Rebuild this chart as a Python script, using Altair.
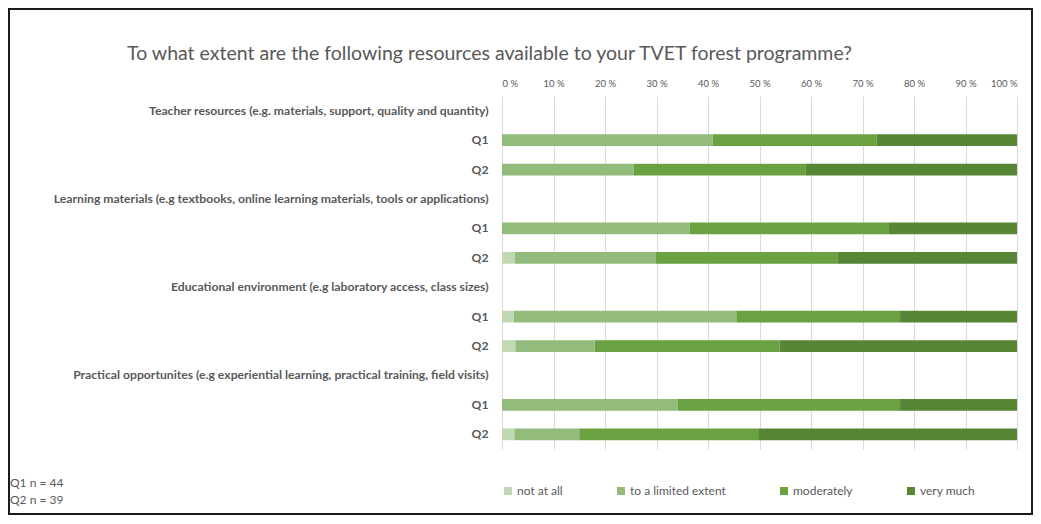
import altair as alt
import pandas as pd

title_text = "To what extent are the following resources available to your TVET forest programme?"

groups = [
    "Teacher resources (e.g. materials, support, quality and quantity)",
    "Learning materials (e.g textbooks, online learning materials, tools or applications)",
    "Educational environment (e.g laboratory access, class sizes)",
    "Practical opportunites (e.g experiential learning, practical training, field visits)",
]
waves = ["Q1", "Q2"]
responses = ["not at all", "to a limited extent", "moderately", "very much"]
colors = ["#C0D8B4", "#93BC7C", "#6AA242", "#568636"]

# percentages per (group, wave), in response order
values = [
    [[0.0, 40.9, 31.8, 27.3], [0.0, 25.6, 33.4, 41.0]],
    [[0.0, 36.4, 38.6, 25.0], [2.5, 27.4, 35.2, 34.9]],
    [[2.3, 43.2, 31.8, 22.7], [2.6, 15.4, 35.9, 46.1]],
    [[0.0, 34.1, 43.2, 22.7], [2.4, 12.6, 34.9, 50.1]],
]
notes = ["Q1 n = 44", "Q2 n = 39"]
x_ticks = [0, 10, 20, 30, 40, 50, 60, 70, 80, 90, 100]

row_keys = []
recs = []
k = 0
for gi, g in enumerate(groups):
    row_keys.append(f"{k}|{g}")
    k += 1
    for wi, w in enumerate(waves):
        key = f"{k}|{w}"
        row_keys.append(key)
        k += 1
        for ri, r in enumerate(responses):
            recs.append({"row": key, "response": r, "order": ri, "value": values[gi][wi][ri]})
df = pd.DataFrame(recs)

W, H = 515, 353
grey = "#595959"

bars = alt.Chart(df).mark_bar().encode(
    x=alt.X("value:Q", stack="zero",
            scale=alt.Scale(domain=[0, 100], nice=False),
            axis=alt.Axis(orient="top", values=x_ticks, labelExpr="datum.value + ' %'",
                          title=None, ticks=False, domain=False, grid=True,
                          gridColor="#D9D9D9", labelFontSize=9.5, labelColor=grey,
                          labelPadding=8)),
    y=alt.Y("row:N", sort=row_keys,
            scale=alt.Scale(domain=row_keys, paddingInner=0.6, paddingOuter=0.3),
            axis=alt.Axis(title=None, labelExpr="split(datum.value, '|')[1]",
                          ticks=False, domain=False, grid=False, labelFontWeight="bold",
                          labelFontSize=12.2, labelColor=grey, labelPadding=14,
                          labelLimit=700)),
    color=alt.Color("response:N", sort=responses,
                    scale=alt.Scale(domain=responses, range=colors),
                    legend=alt.Legend(title=None, orient="none", legendX=0, legendY=389,
                                      direction="horizontal", symbolType="square",
                                      symbolSize=64, symbolStrokeWidth=0,
                                      labelFontSize=12, labelColor=grey,
                                      labelOffset=3, columnPadding=52)),
    order=alt.Order("order:Q"),
)

note_df = pd.DataFrame({"t": [0]})
note = alt.Chart(note_df).mark_text(align="left", baseline="middle", fontSize=12,
                                    color=grey, lineHeight=17).encode(
    x=alt.value(-492), y=alt.value(387), text=alt.value(notes))

frame = alt.Chart(note_df).mark_rect(fillOpacity=0, stroke="#1A1A1A", strokeWidth=2).encode(
    x=alt.value(-493), x2=alt.value(W + 15), y=alt.value(-87), y2=alt.value(H + 65))

chart = alt.layer(bars, note, frame).properties(
    width=W, height=H,
    title=alt.TitleParams(title_text, fontSize=19.5, fontWeight="normal", color=grey,
                          anchor="middle", frame="group", dx=-270, dy=75, offset=0,
                          baseline="bottom"),
    autosize=alt.AutoSizeParams(type="none"),
    padding={"left": 494, "top": 88, "right": 16, "bottom": 67},
).configure(font="Lato").configure_view(stroke=None)

chart.save("out.html", embed_options={"renderer": "svg", "actions": False})
